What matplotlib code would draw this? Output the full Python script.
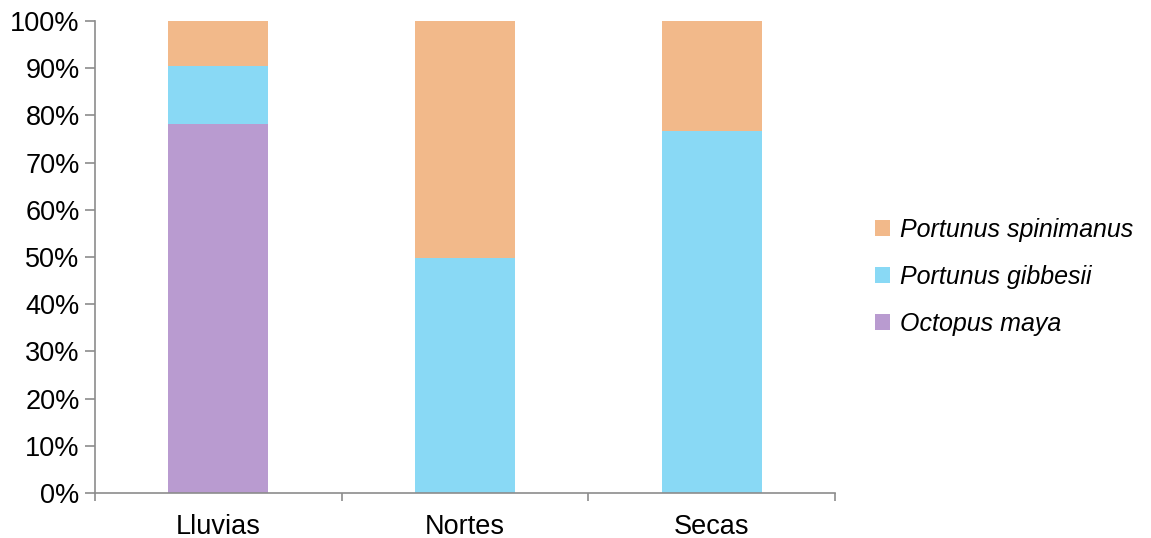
import numpy as np
import matplotlib.pyplot as plt
from matplotlib.ticker import PercentFormatter, FixedLocator

plt.rcParams['font.family'] = ['Liberation Sans', 'DejaVu Sans']

# Data (percent of catch per season)
seasons = ['Lluvias', 'Nortes', 'Secas']
octopus_maya = [78.2, 0.0, 0.0]
portunus_gibbesii = [12.3, 49.8, 76.7]
portunus_spinimanus = [9.5, 50.2, 23.3]

colors = {'Octopus maya': '#B99BD0',
          'Portunus gibbesii': '#89D9F5',
          'Portunus spinimanus': '#F2B98A'}

fig = plt.figure(figsize=(11.51, 5.38), dpi=100)
ax = fig.add_axes([0.0825, 0.0836, 0.643, 0.8774])

x = np.arange(len(seasons))
w = 0.405
bottom = np.zeros(len(seasons))
handles = []
for name, vals in [('Octopus maya', octopus_maya),
                   ('Portunus gibbesii', portunus_gibbesii),
                   ('Portunus spinimanus', portunus_spinimanus)]:
    b = ax.bar(x, vals, w, bottom=bottom, color=colors[name], label=name)
    handles.append(b)
    bottom += np.array(vals)

ax.set_xlim(-0.5, 2.5)
ax.set_ylim(0, 100)
ax.set_yticks(np.arange(0, 101, 10))
ax.yaxis.set_major_formatter(PercentFormatter(decimals=0))
ax.set_xticks(x)
ax.set_xticklabels(seasons)
ax.xaxis.set_minor_locator(FixedLocator([-0.5, 0.5, 1.5, 2.5]))
ax.tick_params(axis='x', which='major', length=0, pad=15, labelsize=19.5)
ax.tick_params(axis='x', which='minor', length=6, color='#8c8c8c', width=1.2)
ax.tick_params(axis='y', length=7, color='#8c8c8c', width=1.2, labelsize=19.5, pad=4)

for s in ['top', 'right']:
    ax.spines[s].set_visible(False)
for s in ['left', 'bottom']:
    ax.spines[s].set_color('#8c8c8c')
    ax.spines[s].set_linewidth(1.2)

leg = ax.legend(handles[::-1], [h.get_label() for h in handles[::-1]],
                loc='center left', bbox_to_anchor=(1.024, 0.458), frameon=False,
                prop={'style': 'italic', 'size': 18}, handlelength=0.6,
                handleheight=0.6, handletextpad=0.4, labelspacing=0.92)

fig.savefig('out.png', dpi=100)
